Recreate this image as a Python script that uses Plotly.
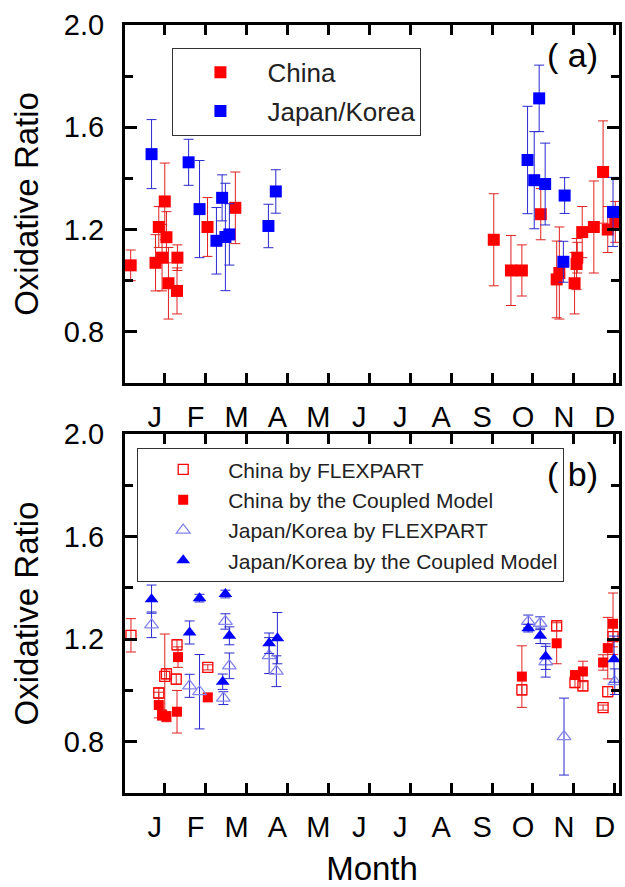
import plotly.graph_objects as go

MONTHS = ["J", "F", "M", "A", "M", "J", "J", "A", "S", "O", "N", "D"]
MONTH_POS = list(range(1, 13))

# ---- panel (a): observations ----
china_x = [0.167, 0.774, 0.854, 0.934, 1.000, 1.041, 1.090, 1.299, 1.309, 2.045, 2.725,
           9.042, 9.462, 9.729, 10.191, 10.580, 10.645, 11.017, 11.066, 11.083, 11.204,
           11.488, 11.714, 11.828, 12.013]
china_y = [1.06, 1.07, 1.21, 1.09, 1.31, 1.17, 0.99, 0.96, 1.09, 1.21, 1.285,
           1.16, 1.04, 1.04, 1.26, 1.005, 1.03, 0.99, 1.065, 1.09, 1.19,
           1.21, 1.425, 1.20, 1.23]
china_err = [0.06, 0.11, 0.08, 0.13, 0.15, 0.10, 0.14, 0.09, 0.05, 0.115, 0.14,
             0.18, 0.137, 0.10, 0.10, 0.15, 0.18, 0.12, 0.10, 0.06, 0.10,
             0.18, 0.20, 0.09, 0.08]

jk_x = [0.677, 1.583, 1.850, 2.263, 2.402, 2.482, 2.579, 3.534, 3.714,
        9.868, 10.031, 10.152, 10.298, 10.743, 10.774, 11.957]
jk_y = [1.495, 1.463, 1.28, 1.156, 1.324, 1.171, 1.181, 1.214, 1.349,
        1.472, 1.393, 1.713, 1.378, 1.074, 1.333, 1.269]
jk_err = [0.135, 0.09, 0.19, 0.13, 0.09, 0.21, 0.12, 0.085, 0.085,
          0.21, 0.19, 0.13, 0.16, 0.08, 0.07, 0.135]

# ---- panel (b): models ----
cf_x = [0.174, 0.854, 1.000, 1.041, 1.299, 1.280, 2.052, 9.729, 10.580, 11.027,
        11.221, 11.714, 11.828, 11.957]
cf_y = [1.215, 0.99, 1.055, 1.065, 1.178, 1.044, 1.09, 1.002, 1.252, 1.031,
        1.018, 0.933, 0.995, 1.21]
cf_err = [0.065, 0.02, 0.165, 0.02, 0.02, 0.02, 0.01, 0.02, 0.02, 0.02,
          0.02, 0.01, 0.02, 0.04]

cc_x = [0.854, 0.934, 1.041, 1.323, 1.299, 2.052, 9.729, 10.580, 11.027, 11.221,
        11.714, 11.828, 11.957]
cc_y = [0.943, 0.904, 0.898, 1.13, 0.917, 0.973, 1.054, 1.184, 1.06, 1.074,
        1.109, 1.165, 1.26]
cc_err = [0.05, 0.02, 0.02, 0.04, 0.083, 0.015, 0.12, 0.08, 0.015, 0.04,
          0.03, 0.12, 0.12]

jf_x = [0.677, 1.607, 1.850, 2.482, 2.579, 2.433, 3.551, 3.728, 9.885, 10.177,
        10.312, 10.759, 11.999]
jf_y = [1.256, 1.018, 0.995, 1.269, 1.096, 0.97, 1.136, 1.075, 1.269, 1.262,
        1.112, 0.82, 1.034]
jf_err = [0.05, 0.045, 0.145, 0.03, 0.05, 0.025, 0.07, 0.06, 0.025, 0.025,
          0.06, 0.15, 0.05]

jc_x = [0.677, 1.607, 1.850, 2.482, 2.579, 2.416, 3.551, 3.753, 9.885, 10.177,
        10.312, 11.982]
jc_y = [1.356, 1.226, 1.36, 1.376, 1.213, 1.034, 1.184, 1.204, 1.243, 1.213,
        1.132, 1.122]
jc_err = [0.055, 0.045, 0.015, 0.015, 0.035, 0.03, 0.04, 0.10, 0.015, 0.03,
          0.05, 0.09]

RED = "#ff0000"
BLUE = "#0000ff"
LBLUE = "#8585ee"
ERR_RED = "#e02020"
ERR_BLUE = "#2a2ad0"
FONT = "Arial, Liberation Sans, sans-serif"


def err(arr, color):
    return dict(type="data", array=arr, visible=True, color=color, thickness=1, width=5)


fig = go.Figure()

fig.add_trace(go.Scatter(x=china_x, y=china_y, mode="markers", name="China",
                         marker=dict(symbol="square", size=12, color=RED),
                         error_y=err(china_err, ERR_RED),
                         xaxis="x", yaxis="y", legend="legend", legendgroup="a1"))
fig.add_trace(go.Scatter(x=jk_x, y=jk_y, mode="markers", name="Japan/Korea",
                         marker=dict(symbol="square", size=12, color=BLUE),
                         error_y=err(jk_err, ERR_BLUE),
                         xaxis="x", yaxis="y", legend="legend", legendgroup="a2"))

fig.add_trace(go.Scatter(x=cf_x, y=cf_y, mode="markers", name="China by FLEXPART",
                         marker=dict(symbol="square-open", size=10, color=RED, line=dict(width=1.3)),
                         error_y=err(cf_err, ERR_RED),
                         xaxis="x2", yaxis="y2", legend="legend2", legendgroup="b1"))
fig.add_trace(go.Scatter(x=cc_x, y=cc_y, mode="markers", name="China by the Coupled Model",
                         marker=dict(symbol="square", size=10, color=RED),
                         error_y=err(cc_err, ERR_RED),
                         xaxis="x2", yaxis="y2", legend="legend2", legendgroup="b2"))
fig.add_trace(go.Scatter(x=jf_x, y=jf_y, mode="markers", name="Japan/Korea by FLEXPART",
                         marker=dict(symbol="triangle-up-open", size=12, color=LBLUE, line=dict(width=1.3)),
                         error_y=err(jf_err, ERR_BLUE),
                         xaxis="x2", yaxis="y2", legend="legend2", legendgroup="b3"))
fig.add_trace(go.Scatter(x=jc_x, y=jc_y, mode="markers", name="Japan/Korea by the Coupled Model",
                         marker=dict(symbol="triangle-up", size=12, color=BLUE),
                         error_y=err(jc_err, ERR_BLUE),
                         xaxis="x2", yaxis="y2", legend="legend2", legendgroup="b4"))

XRANGE = [0.028, 12.103]
xcommon = dict(range=XRANGE, tickmode="array", tickvals=MONTH_POS, ticktext=MONTHS,
               ticks="inside", ticklen=10, tickwidth=2.5, tickcolor="black",
               showline=True, linewidth=3, linecolor="black", mirror="ticks",
               showgrid=False, zeroline=False, ticklabelshift=-10, ticklabelstandoff=6,
               tickfont=dict(family=FONT, size=29, color="black"))
ycommon = dict(range=[0.6, 2.0], tickmode="array", tickvals=[0.8, 1.2, 1.6, 2.0],
               ticktext=["0.8", "1.2", "1.6", "2.0"],
               ticks="inside", ticklen=12, tickwidth=3, tickcolor="black",
               minor=dict(tickmode="array", tickvals=[1.0, 1.4, 1.8], ticks="inside",
                          ticklen=8, tickwidth=3, tickcolor="black"),
               showline=True, linewidth=3, linecolor="black", mirror="ticks",
               showgrid=False, zeroline=False, ticklabelstandoff=12,
               tickfont=dict(family=FONT, size=29, color="black"),
               title=dict(text="Oxidative Ratio", font=dict(family=FONT, size=33, color="black"),
                          standoff=16))

fig.update_layout(
    width=625, height=887,
    margin=dict(l=125, r=3, t=25, b=94),
    paper_bgcolor="white", plot_bgcolor="white",
    font=dict(family=FONT, color="black"),
    xaxis=dict(domain=[0, 1], anchor="y", **xcommon),
    yaxis=dict(domain=[0.5339, 1.0], anchor="x", **ycommon),
    xaxis2=dict(domain=[0, 1], anchor="y2",
                title=dict(text="Month", font=dict(family=FONT, size=33, color="black"), standoff=18),
                **xcommon),
    yaxis2=dict(domain=[0.0, 0.4674], anchor="x2", **ycommon),
    legend=dict(x=0.096, y=0.9704, xanchor="left", yanchor="top",
                bgcolor="white", bordercolor="#333", borderwidth=1,
                font=dict(family=FONT, size=26, color="#222"),
                itemwidth=84, tracegroupgap=2, traceorder="grouped",
                entrywidth=170, entrywidthmode="pixels"),
    legend2=dict(x=0.0247, y=0.4488, xanchor="left", yanchor="top",
                 bgcolor="white", bordercolor="#333", borderwidth=1,
                 font=dict(family=FONT, size=21, color="#222"),
                 itemwidth=80, tracegroupgap=0, traceorder="grouped",
                 entrywidth=355, entrywidthmode="pixels"),
    showlegend=True,
    annotations=[
        dict(text="( a)", xref="paper", yref="paper", x=0.905, y=0.961,
             xanchor="center", yanchor="middle",
             showarrow=False, font=dict(family=FONT, size=34, color="black")),
        dict(text="( b)", xref="paper", yref="paper", x=0.905, y=0.415,
             xanchor="center", yanchor="middle",
             showarrow=False, font=dict(family=FONT, size=34, color="black")),
    ],
)

fig.write_html("out.html")
